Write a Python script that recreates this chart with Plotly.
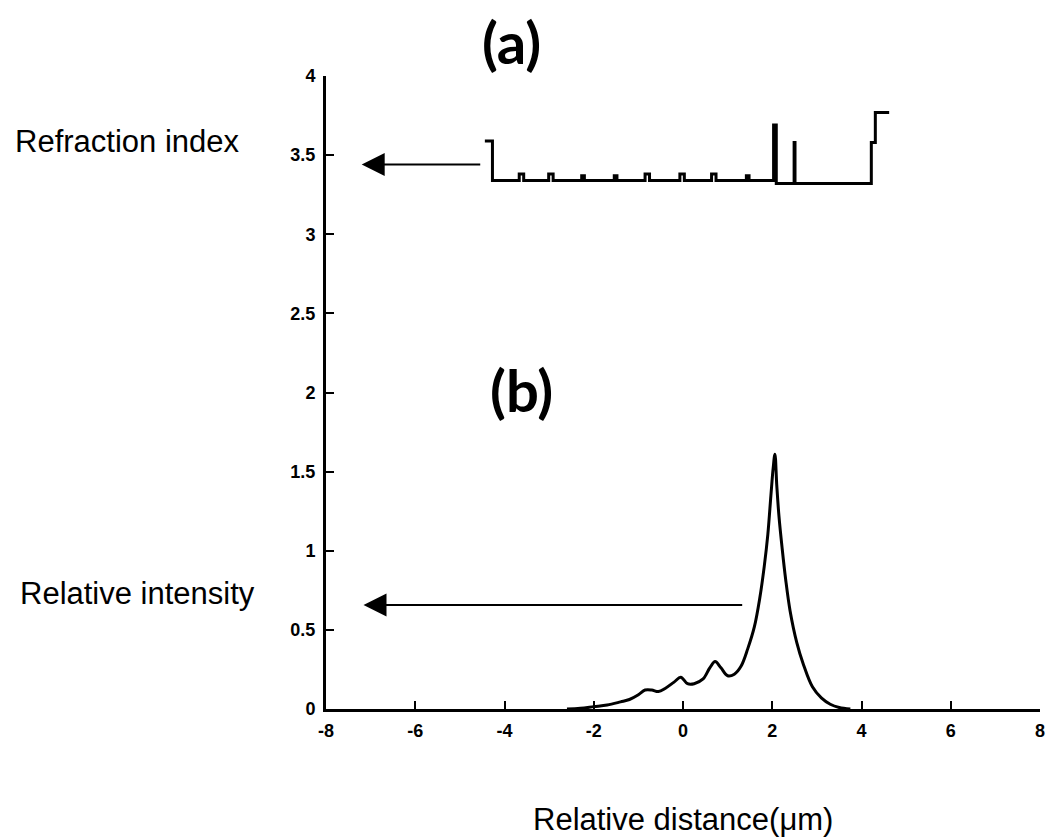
import plotly.graph_objects as go

# Refraction index step profile (step starts, value held until next x)
ri_x = [-4.44, -4.27, -3.67, -3.57, -3.01, -2.91, -2.27, -2.21, -1.54, -1.48,
        -0.85, -0.75, -0.07, 0.03, 0.64, 0.74, 1.42, 1.48, 2.03, 2.09,
        2.49, 2.51, 4.22, 4.31, 4.62]
ri_y = [3.59, 3.34, 3.38, 3.34, 3.38, 3.34, 3.37, 3.34, 3.37, 3.34,
        3.38, 3.34, 3.38, 3.34, 3.38, 3.34, 3.37, 3.34, 3.69, 3.32,
        3.58, 3.32, 3.58, 3.77, 3.77]

# Relative intensity profile
int_x = [-2.6, -2.3, -2.0, -1.7, -1.4, -1.2, -1.0, -0.85, -0.7, -0.55, -0.4,
         -0.2, -0.05, 0.1, 0.25, 0.45, 0.6, 0.72, 0.85, 1.0, 1.15, 1.3, 1.45,
         1.6, 1.72, 1.82, 1.9, 1.97, 2.02, 2.06, 2.1, 2.15, 2.22, 2.3, 2.4,
         2.55, 2.7, 2.9, 3.1, 3.3, 3.5, 3.75]
int_y = [0.0, 0.005, 0.015, 0.025, 0.045, 0.06, 0.09, 0.12, 0.12, 0.11, 0.13,
         0.17, 0.20, 0.16, 0.16, 0.19, 0.26, 0.30, 0.26, 0.21, 0.22, 0.27, 0.38,
         0.52, 0.70, 0.90, 1.10, 1.35, 1.52, 1.61, 1.42, 1.22, 1.02, 0.82, 0.62,
         0.42, 0.28, 0.14, 0.07, 0.03, 0.01, 0.0]

x_ticks = [-8, -6, -4, -2, 0, 2, 4, 6, 8]
y_ticks = [0, 0.5, 1, 1.5, 2, 2.5, 3, 3.5, 4]
y_tick_text = ["0", "0.5", "1", "1.5", "2", "2.5", "3", "3.5", "4"]

fig = go.Figure()
fig.add_trace(go.Scatter(x=ri_x, y=ri_y, mode="lines", line_shape="hv",
                         line=dict(color="black", width=3), showlegend=False))
fig.add_trace(go.Scatter(x=int_x, y=int_y, mode="lines", line_shape="spline",
                         line=dict(color="black", width=3), showlegend=False))

tickfont = dict(family="Liberation Sans Narrow, Liberation Sans", size=18,
                color="black", weight="bold")
fig.update_xaxes(range=[-8, 8], tickvals=x_ticks, ticktext=[str(v) for v in x_ticks],
                 showline=True, linecolor="black", linewidth=3, ticks="inside",
                 ticklen=8, tickwidth=2, tickcolor="black", showgrid=False,
                 zeroline=False, tickfont=tickfont, ticklabelstandoff=3)
fig.update_yaxes(range=[0, 4], tickvals=y_ticks, ticktext=y_tick_text,
                 showline=True, linecolor="black", linewidth=3, ticks="inside",
                 ticklen=8, tickwidth=2, tickcolor="black", showgrid=False,
                 zeroline=False, tickfont=tickfont, ticklabelstandoff=4)

label_font = dict(family="Liberation Sans", size=31, color="black")
big_font = dict(family="Lato", size=58, color="black", weight="bold")
annotations = [
    dict(x=0.260, y=1.054, text="(a)", font=big_font),
    dict(x=0.274, y=0.504, text="(b)", font=big_font),
    dict(x=-0.278, y=0.897, text="Refraction index", font=label_font),
    dict(x=-0.264, y=0.183, text="Relative intensity", font=label_font),
    dict(x=0.5007, y=-0.175, text="Relative distance(\u03bcm)", font=label_font),
]
for a in annotations:
    a.update(xref="paper", yref="paper", showarrow=False,
             xanchor="center", yanchor="middle")

arrows = [
    dict(x=-7.2, y=3.44, ax=-4.51, ay=3.44),
    dict(x=-7.16, y=0.657, ax=1.36, ay=0.657),
]
for a in arrows:
    a.update(xref="x", yref="y", axref="x", ayref="y", text="", showarrow=True,
             arrowhead=2, arrowsize=2.3, arrowwidth=2, arrowcolor="black")

fig.update_layout(width=1046, height=831, margin=dict(l=318, r=9, t=68, b=130),
                  plot_bgcolor="white", paper_bgcolor="white",
                  annotations=annotations + arrows)

fig.write_html("out.html")
